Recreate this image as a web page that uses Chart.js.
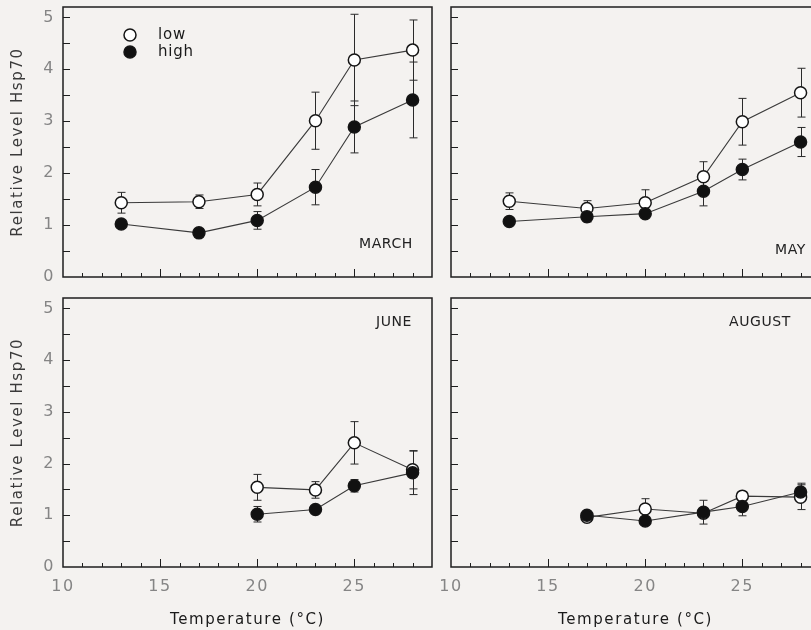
<!DOCTYPE html>
<html>
<head>
<meta charset="utf-8">
<title>Relative Level Hsp70</title>
<script src="https://cdn.jsdelivr.net/npm/chart.js@4.4.1/dist/chart.umd.min.js"></script>
<style>
  html, body { margin: 0; padding: 0; background: #f4f2f0; overflow: hidden; }
  body { width: 811px; height: 630px; position: relative; }
  .panel { position: absolute; }
  .panel canvas { display: block; }
</style>
</head>
<body>
<div class="panel" style="left:0;top:0"><canvas id="marchChart" width="440" height="285"></canvas></div>
<div class="panel" style="left:440px;top:0"><canvas id="mayChart" width="400" height="285"></canvas></div>
<div class="panel" style="left:0;top:290px"><canvas id="juneChart" width="440" height="340"></canvas></div>
<div class="panel" style="left:440px;top:290px"><canvas id="augustChart" width="400" height="340"></canvas></div>

<script>
// Data (temperature in degC, relative level Hsp70, +/- error)
const marchTemps = [13, 17, 20, 23, 25, 28];
const marchLow = [1.43, 1.45, 1.59, 3.01, 4.18, 4.37];
const marchLowErr = [0.20, 0.13, 0.22, 0.55, 0.88, 0.58];
const marchHigh = [1.02, 0.85, 1.09, 1.73, 2.89, 3.41];
const marchHighErr = [0.05, 0.07, 0.17, 0.34, 0.50, 0.73];

const mayTemps = [13, 17, 20, 23, 25, 28];
const mayLow = [1.46, 1.32, 1.43, 1.93, 2.99, 3.55];
const mayLowErr = [0.16, 0.15, 0.25, 0.29, 0.45, 0.47];
const mayHigh = [1.07, 1.16, 1.22, 1.65, 2.07, 2.60];
const mayHighErr = [0.04, 0.10, 0.05, 0.28, 0.20, 0.28];

const juneTemps = [20, 23, 25, 28];
const juneLow = [1.54, 1.49, 2.40, 1.88];
const juneLowErr = [0.25, 0.16, 0.41, 0.37];
const juneHigh = [1.02, 1.11, 1.57, 1.82];
const juneHighErr = [0.15, 0.05, 0.12, 0.42];

const augustTemps = [17, 20, 23, 25, 28];
const augustLow = [0.96, 1.12, 1.04, 1.37, 1.35];
const augustLowErr = [0.08, 0.20, 0.05, 0.06, 0.24];
const augustHigh = [1.00, 0.89, 1.06, 1.17, 1.45];
const augustHighErr = [0.05, 0.04, 0.23, 0.18, 0.17];

const seriesLabels = ['low', 'high'];
const xTickLabels = [10, 15, 20, 25];
const yTickLabels = [0, 1, 2, 3, 4, 5];

const FONT = 'DejaVu Sans';

/**
 * Zip x and y arrays into scatter points
 */
function toPoints(xs, ys) {
  return xs.map((x, i) => ({ x: x, y: ys[i] }));
}

/**
 * Box, inward ticks, error bars, legend and month label
 */
const panelDecor = {
  id: 'panelDecor',
  beforeDraw(chart) {
    // the original axis lettering is widely spaced
    chart.ctx.letterSpacing = '1.6px';
  },
  beforeDatasetsDraw(chart) {
    const { ctx, chartArea: a, scales: { x, y } } = chart;
    ctx.save();
    ctx.strokeStyle = '#1e1e1e';
    ctx.lineWidth = 1.5;
    ctx.strokeRect(a.left, a.top, a.right - a.left, a.bottom - a.top);

    // minor/major ticks pointing into the plot
    ctx.lineWidth = 1;
    for (let v = 0.5; v <= 5; v += 0.5) {
      const py = Math.round(y.getPixelForValue(v)) + 0.5;
      ctx.beginPath();
      ctx.moveTo(a.left, py);
      ctx.lineTo(a.left + 7, py);
      ctx.stroke();
    }
    for (let v = 11; v < 29; v++) {
      const px = Math.round(x.getPixelForValue(v)) + 0.5;
      const len = v % 5 === 0 ? 8 : 4;
      ctx.beginPath();
      ctx.moveTo(px, a.bottom);
      ctx.lineTo(px, a.bottom - len);
      ctx.stroke();
    }

    // error bars
    ctx.strokeStyle = '#2a2a2a';
    chart.data.datasets.forEach(ds => {
      ds.data.forEach((p, i) => {
        const err = ds.errors[i];
        const px = Math.round(x.getPixelForValue(p.x)) + 0.5;
        const top = y.getPixelForValue(p.y + err);
        const bot = y.getPixelForValue(p.y - err);
        ctx.beginPath();
        ctx.moveTo(px, top);
        ctx.lineTo(px, bot);
        ctx.moveTo(px - 4, top);
        ctx.lineTo(px + 4, top);
        ctx.moveTo(px - 4, bot);
        ctx.lineTo(px + 4, bot);
        ctx.stroke();
      });
    });
    ctx.restore();
  },
  afterDraw(chart, args, opts) {
    const { ctx, chartArea: a } = chart;
    ctx.save();
    ctx.textBaseline = 'middle';

    if (opts.label) {
      ctx.letterSpacing = '0.6px';
      ctx.font = '14px "' + FONT + '"';
      ctx.fillStyle = '#222222';
      ctx.textAlign = 'right';
      const ly = opts.labelFromTop != null ? a.top + opts.labelFromTop : a.bottom - opts.labelFromBottom;
      ctx.fillText(opts.label, a.right - opts.labelInset, ly);
    }

    if (opts.legend) {
      ctx.letterSpacing = '0.8px';
      ctx.font = '15px "' + FONT + '"';
      ctx.textAlign = 'left';
      chart.data.datasets.forEach((ds, i) => {
        const cy = opts.legend.y + i * 17;
        ctx.beginPath();
        ctx.arc(opts.legend.x, cy, 6, 0, Math.PI * 2);
        ctx.fillStyle = ds.pointBackgroundColor;
        ctx.fill();
        ctx.lineWidth = 1.5;
        ctx.strokeStyle = ds.pointBorderColor;
        ctx.stroke();
        ctx.fillStyle = '#1a1a1a';
        ctx.fillText(ds.label, opts.legend.x + 28, cy);
      });
    }
    ctx.restore();
    ctx.letterSpacing = '0px';
  }
};

/**
 * Drop the extra room chart.js reserves for overhanging tick labels
 */
function noLabelPadding(s) {
  s.paddingTop = 0;
  s.paddingBottom = 0;
  s.paddingLeft = 0;
  s.paddingRight = 0;
}

/**
 * Build one month panel
 */
function createPanel(id, temps, low, lowErr, high, highErr, cfg) {
  const ctx = document.getElementById(id);
  const lineStyle = {
    showLine: true,
    borderColor: '#3a3a3a',
    borderWidth: 1.1,
    pointRadius: 6,
    pointHoverRadius: 6,
    pointBorderColor: '#151515',
    pointBorderWidth: 1.5
  };

  return new Chart(ctx, {
    type: 'scatter',
    data: {
      datasets: [
        Object.assign({ label: seriesLabels[0], data: toPoints(temps, low), errors: lowErr,
          pointBackgroundColor: '#ffffff', order: 1 }, lineStyle),
        Object.assign({ label: seriesLabels[1], data: toPoints(temps, high), errors: highErr,
          pointBackgroundColor: '#111111', order: 0 }, lineStyle)
      ]
    },
    options: {
      responsive: false,
      devicePixelRatio: 1,
      animation: false,
      layout: {
        autoPadding: false,
        padding: { left: 0, top: cfg.padTop, right: cfg.padRight, bottom: 0 }
      },
      plugins: {
        legend: { display: false },
        tooltip: { enabled: false },
        panelDecor: cfg.decor
      },
      scales: {
        x: {
          type: 'linear',
          min: 10,
          max: 29,
          afterBuildTicks: s => { s.ticks = xTickLabels.map(v => ({ value: v })); },
          afterFit: s => { s.height = cfg.xHeight; noLabelPadding(s); },
          grid: { display: false, drawTicks: false },
          border: { display: false },
          ticks: {
            display: cfg.showX,
            padding: 10,
            color: '#858585',
            font: { family: FONT, size: 16 }
          },
          title: {
            display: cfg.showX,
            text: 'Temperature (°C)',
            color: '#1a1a1a',
            padding: { top: 0, bottom: 1 },
            font: { family: FONT, size: 15 }
          }
        },
        y: {
          type: 'linear',
          min: 0,
          max: 5.2,
          afterBuildTicks: s => { s.ticks = yTickLabels.map(v => ({ value: v })); },
          afterFit: s => { s.width = cfg.yWidth; noLabelPadding(s); },
          grid: { display: false, drawTicks: false },
          border: { display: false },
          ticks: {
            display: cfg.showY,
            padding: 8,
            color: '#858585',
            font: { family: FONT, size: 16 }
          },
          title: {
            display: cfg.showY,
            text: 'Relative Level Hsp70',
            color: '#3a3a3a',
            padding: { top: 9, bottom: 0 },
            font: { family: FONT, size: 15 }
          }
        }
      }
    },
    plugins: [panelDecor]
  });
}

createPanel('marchChart', marchTemps, marchLow, marchLowErr, marchHigh, marchHighErr, {
  padTop: 7, padRight: 8, xHeight: 8, yWidth: 63, showX: false, showY: true,
  decor: { label: 'MARCH', labelInset: 19, labelFromBottom: 33, legend: { x: 130, y: 35 } }
});

createPanel('mayChart', mayTemps, mayLow, mayLowErr, mayHigh, mayHighErr, {
  padTop: 7, padRight: 20, xHeight: 8, yWidth: 11, showX: false, showY: false,
  decor: { label: 'MAY', labelInset: 14, labelFromBottom: 27 }
});

createPanel('juneChart', juneTemps, juneLow, juneLowErr, juneHigh, juneHighErr, {
  padTop: 8, padRight: 8, xHeight: 63, yWidth: 63, showX: true, showY: true,
  decor: { label: 'JUNE', labelInset: 20, labelFromTop: 24 }
});

createPanel('augustChart', augustTemps, augustLow, augustLowErr, augustHigh, augustHighErr, {
  padTop: 8, padRight: 20, xHeight: 63, yWidth: 11, showX: true, showY: false,
  decor: { label: 'AUGUST', labelInset: 29, labelFromTop: 24 }
});
</script>
</body>
</html>
